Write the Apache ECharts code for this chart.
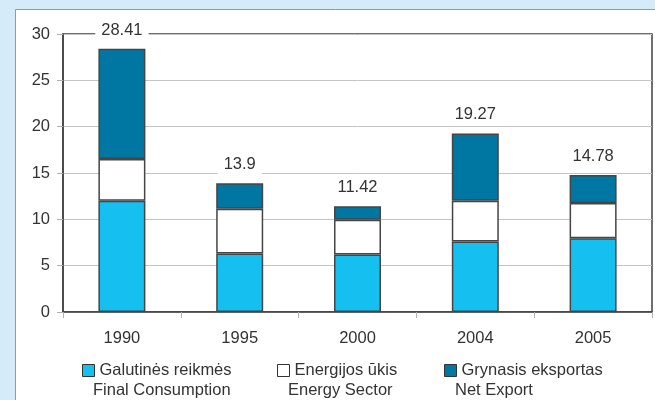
<!DOCTYPE html>
<html>
<head>
<meta charset="utf-8">
<script src="https://cdn.jsdelivr.net/npm/echarts@6/dist/echarts.min.js"></script>
<style>
  html, body { margin: 0; padding: 0; background: #d6ebf9; }
  #chart { width: 655px; height: 400px; }
</style>
</head>
<body>
<div id="chart"></div>
<script>
// metai
const years = ['1990', '1995', '2000', '2004', '2005'];
// Galutinės reikmės / Final Consumption
const finalConsumption = [12.0, 6.3, 6.2, 7.6, 7.95];
// Energijos ūkis / Energy Sector
const energySector = [4.5, 4.85, 3.75, 4.4, 3.8];
// Grynasis eksportas / Net Export
const netExport = [11.91, 2.75, 1.47, 7.27, 3.03];
// sumos virš stulpelių
const totals = ['28.41', '13.9', '11.42', '19.27', '14.78'];

const seriesNames = ['Galutinės reikmės', 'Energijos ūkis', 'Grynasis eksportas'];
const seriesNamesEn = ['Final Consumption', 'Energy Sector', 'Net Export'];
const colors = ['#15c0f0', '#ffffff', '#0076a3'];

const font = 'Liberation Sans, Arial, sans-serif';
const fs = 16.5;
const chart = echarts.init(document.getElementById('chart'));

const barStyle = (c) => ({ color: c, borderColor: '#454545', borderWidth: 1.5 });

// po vieną legendą kiekvienai serijai, kad būtų tiksliai išdėstyta
const legendLeft = [77, 272, 439];
const legends = seriesNames.map((n, i) => ({
  data: [n],
  left: legendLeft[i],
  top: 357,
  itemWidth: 12,
  itemHeight: 12,
  itemGap: 0,
  icon: 'rect',
  itemStyle: { borderColor: '#333', borderWidth: 1 },
  textStyle: { fontSize: fs, color: '#333', fontFamily: font }
}));

const option = {
  backgroundColor: '#d6ebf9',
  animation: false,
  graphic: [
    {
      type: 'rect', z: -10,
      shape: { x: 15.5, y: 9.5, width: 700, height: 400 },
      style: { fill: '#ffffff', stroke: '#9a9a9a', lineWidth: 1 }
    },
    ...seriesNamesEn.map((t, i) => ({
      type: 'text',
      left: legendLeft[i] + 16,
      top: 382,
      style: { text: t, fontSize: fs, fill: '#333', fontFamily: font }
    }))
  ],
  legend: legends,
  grid: {
    left: 63, right: 3, top: 34, bottom: 88,
    show: true, borderColor: '#404040', borderWidth: 1.5
  },
  xAxis: {
    type: 'category',
    data: years,
    axisLine: { lineStyle: { color: '#404040', width: 1.5 } },
    axisTick: { show: true, length: 6, lineStyle: { color: '#b0b0b0' } },
    axisLabel: { fontSize: fs, color: '#333', fontFamily: font, margin: 18 }
  },
  yAxis: {
    type: 'value',
    min: 0, max: 30, interval: 5,
    axisLine: { show: true, lineStyle: { color: '#404040', width: 1.5 } },
    axisTick: { show: true, length: 6, lineStyle: { color: '#b0b0b0' } },
    axisLabel: { fontSize: fs, color: '#333', fontFamily: font, margin: 13 },
    splitLine: { lineStyle: { color: '#c4c4c4' } }
  },
  series: [
    {
      name: seriesNames[0], type: 'bar', stack: 'total',
      barWidth: 47, data: finalConsumption, itemStyle: barStyle(colors[0])
    },
    {
      name: seriesNames[1], type: 'bar', stack: 'total',
      barWidth: 47, data: energySector, itemStyle: barStyle(colors[1])
    },
    {
      name: seriesNames[2], type: 'bar', stack: 'total',
      barWidth: 47, data: netExport, itemStyle: barStyle(colors[2]),
      label: {
        show: true, position: 'top', distance: 9,
        formatter: (p) => totals[p.dataIndex],
        fontSize: fs, color: '#333', fontFamily: font,
        backgroundColor: '#ffffff', padding: [1, 6]
      }
    }
  ]
};

chart.setOption(option);
</script>
</body>
</html>
